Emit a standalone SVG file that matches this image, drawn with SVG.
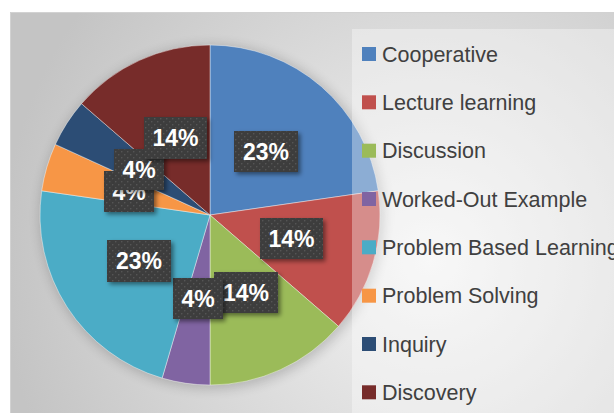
<svg xmlns="http://www.w3.org/2000/svg" width="614" height="413" viewBox="0 0 614 413">
  <style>
    .slice { stroke: #ffffff; stroke-width: 0.7; stroke-opacity: 0.6; }
    .lbox { fill: url(#dots); filter: url(#shadow); }
    .ltxt { font-family: "Liberation Sans", Arial, sans-serif; font-weight: bold; font-size: 23px; fill: #ffffff; text-anchor: middle; }
    .legtxt { font-family: "Liberation Sans", Arial, sans-serif; font-size: 21.5px; fill: #404040; }
  </style>
  <defs>
    <radialGradient id="bg" gradientUnits="userSpaceOnUse" cx="430" cy="260" r="430">
      <stop offset="0" stop-color="#f4f4f4"/>
      <stop offset="1" stop-color="#c4c4c4"/>
    </radialGradient>
    <pattern id="dots" width="6" height="6" patternUnits="userSpaceOnUse">
      <rect width="6" height="6" fill="#3d3d3d"/>
      <rect x="1" y="1" width="1.4" height="1.4" fill="#555555"/>
      <rect x="4" y="4" width="1.4" height="1.4" fill="#555555"/>
    </pattern>
    <filter id="shadow" x="-20%" y="-20%" width="150%" height="150%">
      <feDropShadow dx="2.5" dy="2.5" stdDeviation="2" flood-color="#000000" flood-opacity="0.45"/>
    </filter>
    <filter id="pieshadow" x="-20%" y="-20%" width="140%" height="140%">
      <feGaussianBlur stdDeviation="6"/>
    </filter>
  </defs>

  <rect x="0" y="0" width="614" height="413" fill="#ffffff"/>
  <rect x="10" y="12" width="604" height="401" fill="url(#bg)"/>
  <path d="M10.5,413 V12.5 H614" fill="none" stroke="#d2d2d2" stroke-width="1"/>

  <circle cx="212" cy="217" r="172" fill="#000000" opacity="0.18" filter="url(#pieshadow)"/>

  <g id="pie">
    <g id="slice-cooperative"><path class="slice" fill="#4F81BD" d="M210,215 L210,45 A170,170 0 0 1 378.27,190.81 Z"/></g>
    <g id="slice-lecture"><path class="slice" fill="#C0504D" d="M210,215 L378.27,190.81 A170,170 0 0 1 338.48,326.33 Z"/></g>
    <g id="slice-discussion"><path class="slice" fill="#9BBB59" d="M210,215 L338.48,326.33 A170,170 0 0 1 210,385 Z"/></g>
    <g id="slice-worked"><path class="slice" fill="#8064A2" d="M210,215 L210,385 A170,170 0 0 1 162.11,378.11 Z"/></g>
    <g id="slice-pbl"><path class="slice" fill="#4BACC6" d="M210,215 L162.11,378.11 A170,170 0 0 1 41.73,190.81 Z"/></g>
    <g id="slice-ps"><path class="slice" fill="#F79646" d="M210,215 L41.73,190.81 A170,170 0 0 1 55.36,144.38 Z"/></g>
    <g id="slice-inquiry"><path class="slice" fill="#2C4D75" d="M210,215 L55.36,144.38 A170,170 0 0 1 81.52,103.67 Z"/></g>
    <g id="slice-discovery"><path class="slice" fill="#772C2A" d="M210,215 L81.52,103.67 A170,170 0 0 1 210,45 Z"/></g>
  </g>

  <g id="labels">
    <g id="label-cooperative"><rect class="lbox" x="234" y="131" width="64" height="41"/><text class="ltxt" x="266" y="159.7">23%</text></g>
    <g id="label-lecture"><rect class="lbox" x="260" y="218" width="63" height="41"/><text class="ltxt" x="291.5" y="246.7">14%</text></g>
    <g id="label-discussion"><rect class="lbox" x="214" y="272" width="64" height="41"/><text class="ltxt" x="246" y="300.7">14%</text></g>
    <g id="label-worked"><rect class="lbox" x="173" y="278" width="50" height="41"/><text class="ltxt" x="198" y="306.7">4%</text></g>
    <g id="label-pbl"><rect class="lbox" x="107" y="240" width="64" height="42"/><text class="ltxt" x="139" y="269.2">23%</text></g>
    <g id="label-ps"><rect class="lbox" x="104" y="171" width="50" height="41"/><text class="ltxt" x="129" y="199.7">4%</text></g>
    <g id="label-inquiry"><rect class="lbox" x="114" y="149" width="50" height="41"/><text class="ltxt" x="139" y="177.7">4%</text></g>
    <g id="label-discovery"><rect class="lbox" x="144" y="117" width="63" height="42"/><text class="ltxt" x="175.5" y="146.2">14%</text></g>
  </g>

  <rect id="legend-bg" x="352" y="29" width="262" height="384" fill="#ffffff" fill-opacity="0.35"/>

  <g id="legend">
    <g id="leg-cooperative"><rect x="362" y="47" width="14" height="14" fill="#4F81BD"/><text class="legtxt" x="382" y="61.5">Cooperative</text></g>
    <g id="leg-lecture"><rect x="362" y="95.3" width="14" height="14" fill="#C0504D"/><text class="legtxt" x="382" y="109.8">Lecture learning</text></g>
    <g id="leg-discussion"><rect x="362" y="143.7" width="14" height="14" fill="#9BBB59"/><text class="legtxt" x="382" y="158.2">Discussion</text></g>
    <g id="leg-worked"><rect x="362" y="192" width="14" height="14" fill="#8064A2"/><text class="legtxt" x="382" y="206.5">Worked-Out Example</text></g>
    <g id="leg-pbl"><rect x="362" y="240.3" width="14" height="14" fill="#4BACC6"/><text class="legtxt" x="382" y="254.8">Problem Based Learning</text></g>
    <g id="leg-ps"><rect x="362" y="288.7" width="14" height="14" fill="#F79646"/><text class="legtxt" x="382" y="303.2">Problem Solving</text></g>
    <g id="leg-inquiry"><rect x="362" y="337" width="14" height="14" fill="#2C4D75"/><text class="legtxt" x="382" y="351.5">Inquiry</text></g>
    <g id="leg-discovery"><rect x="362" y="385.3" width="14" height="14" fill="#772C2A"/><text class="legtxt" x="382" y="399.8">Discovery</text></g>
  </g>
</svg>
